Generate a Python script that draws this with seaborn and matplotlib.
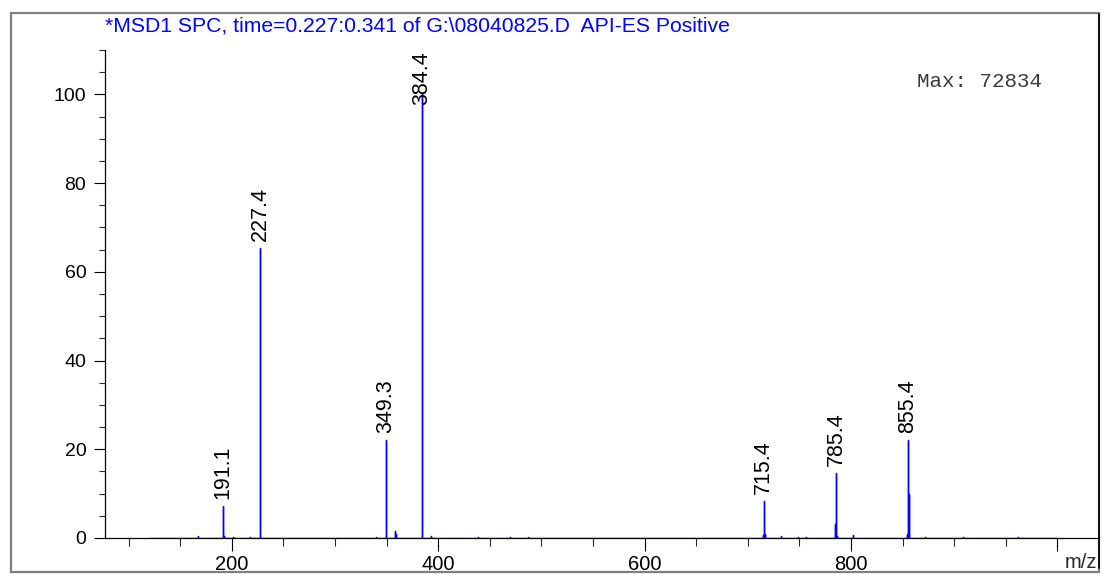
import matplotlib
matplotlib.use("Agg")
import matplotlib.pyplot as plt
from matplotlib.patches import Rectangle
from matplotlib.lines import Line2D
from matplotlib.ticker import MultipleLocator, FixedLocator
import seaborn as sns
import pandas as pd

# Mass spectrum (relative abundance, %), base peak = 72834 counts
spec_mz = [167.1, 191.1, 191.5, 192.3, 200.7, 217.6,
           227.4, 227.5,
           340.0, 349.3, 349.6, 357.9, 358.3, 358.6,
           384.4, 393.0, 393.3, 438.7, 470.0, 487.0,
           714.9, 715.4, 716.0, 716.4, 732.4, 748.5, 756.0,
           784.9, 785.0, 785.4, 785.8, 786.2, 801.6, 802.0, 802.4,
           854.6, 855.0, 855.4, 855.8, 856.3, 856.6, 871.3, 908.3, 962.3]
spec_int = [0.5, 7.2, 0.6, 0.4, 0.3, 0.3,
            65.4, 47.0,
            0.3, 22.0, 0.4, 0.5, 1.6, 0.8,
            100.0, 0.5, 0.3, 0.2, 0.2, 0.2,
            0.6, 8.3, 4.5, 0.8, 0.4, 0.2, 0.2,
            0.8, 3.1, 14.6, 7.0, 0.5, 0.7, 0.5, 0.3,
            0.8, 10.1, 22.2, 10.0, 2.7, 0.5, 0.3, 0.3, 0.2]
scan_range = [120.0, 1000.0]

labeled_mz = [191.1, 227.4, 349.3, 384.4, 715.4, 785.4, 855.4]

title_text = "*MSD1 SPC, time=0.227:0.341 of G:\\08040825.D  API-ES Positive"
max_text = "Max: 72834"
x_major = [200, 400, 600, 800, 1000]
x_major_labels = ["200", "400", "600", "800", ""]
y_major = [0, 20, 40, 60, 80, 100]

# Stick profile: every centroid drawn as a vertical stick on a zero baseline
rows = [(scan_range[0], 0.0)]
for m, a in zip(spec_mz, spec_int):
    rows += [(m, 0.0), (m, a), (m, 0.0)]
rows.append((scan_range[1], 0.0))
profile = pd.DataFrame(rows, columns=["mz", "abundance"])

sns.set_style("ticks")
plt.rcParams["font.family"] = ["Liberation Sans", "DejaVu Sans"]

W, H = 1102, 574
fig = plt.figure(figsize=(W / 100, H / 100), dpi=100)
ax = fig.add_axes([105 / W, (H - 538) / H, (1099 - 105) / W, (538 - 50) / H])

sns.lineplot(data=profile, x="mz", y="abundance", sort=False, estimator=None,
             color="#0000ff", lw=1.0, ax=ax, zorder=3)

ax.set_xlim(77, 1040.4)
ax.set_ylim(0, 110)
ax.set_xlabel("")
ax.set_ylabel("")

ax.xaxis.set_major_locator(FixedLocator(x_major))
ax.set_xticklabels(x_major_labels)
ax.xaxis.set_minor_locator(MultipleLocator(50))
ax.yaxis.set_major_locator(FixedLocator(y_major))
ax.yaxis.set_minor_locator(MultipleLocator(5))

ax.tick_params(axis="x", which="major", length=9.5, width=0.8, pad=2.5,
               labelsize=14.5, colors="black")
ax.tick_params(axis="x", which="minor", length=5.5, width=0.8)
ax.tick_params(axis="y", which="major", length=8, width=0.8, pad=5.5,
               labelsize=14, colors="black")
ax.tick_params(axis="y", which="minor", length=4.3, width=0.8)

for side in ["top", "right"]:
    ax.spines[side].set_visible(False)
for side in ["left", "bottom"]:
    ax.spines[side].set_color("black")
    ax.spines[side].set_linewidth(0.9)
ax.grid(False)

# Peak annotations, rotated, sitting just above each labelled stick
lookup = dict(zip(spec_mz, spec_int))
for m in labeled_mz:
    a = lookup[m]
    if a + 14 > 110:
        ax.text(m, 109.7, f"{m:.1f}", rotation=90, ha="center", va="top",
                fontsize=15.5, color="black", zorder=4)
    else:
        ax.annotate(f"{m:.1f}", xy=(m, a), xytext=(0, 5),
                    textcoords="offset points", rotation=90,
                    ha="center", va="bottom", fontsize=15.5, color="black",
                    zorder=4)

fig.text(105 / W, 1 - 26 / H, title_text, color="#0000ff", fontsize=15.2,
         ha="left", va="center")
fig.text(917 / W, 1 - 82 / H, max_text, family=["Liberation Mono", "DejaVu Sans Mono"],
         fontsize=15, color="#3a3a3a", ha="left", va="center")
fig.text(1097 / W, 1 - 563 / H, "m/z", fontsize=14.5, ha="right", va="center")

# Outer panel frame
fig.add_artist(Rectangle((11 / W, 1 - 572 / H), (1099 - 11) / W, (572 - 13) / H,
                         transform=fig.transFigure, fill=False,
                         edgecolor="#7f7f7f", lw=1.6))
fig.add_artist(Line2D([1099 / W, 1099 / W], [1 - 14 / H, 1 - 568 / H],
                      transform=fig.transFigure, color="black", lw=1.2))

fig.savefig("out.png", dpi=100)
